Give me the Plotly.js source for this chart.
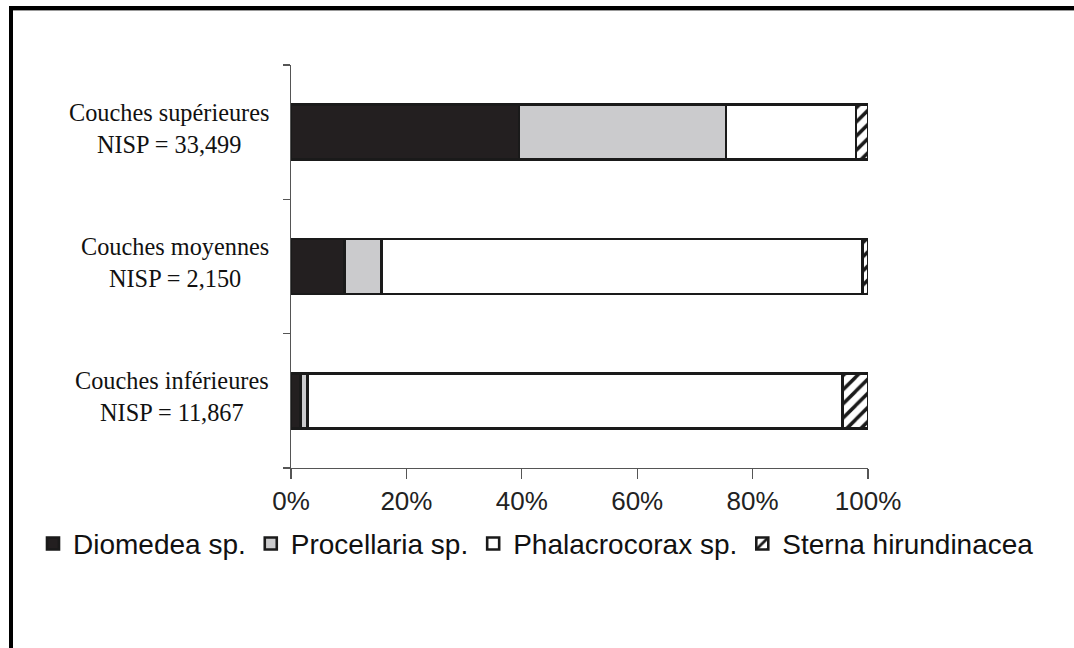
<!DOCTYPE html>
<html>
<head>
<meta charset="utf-8">
<script src="https://cdn.plot.ly/plotly-3.0.1.min.js"></script>
<style>
  html, body { margin: 0; padding: 0; background: #fff; }
  #frame { position: absolute; left: 9px; top: 6px; width: 1070px; height: 650px;
           border-top: 4px solid #000; border-left: 4px solid #000; box-sizing: border-box; }
  #frame2 { position: absolute; left: 13px; top: 10px; width: 1070px; height: 1px; background: #999; }
  #chart { position: absolute; left: 0; top: 0; width: 1074px; height: 648px; }
</style>
</head>
<body>
<div id="chart"></div>
<div id="frame"></div>
<div id="frame2"></div>
<script>
// Categories (bottom to top as drawn)
const layers = ["Couches inférieures", "Couches moyennes", "Couches supérieures"];
const nisp = ["11,867", "2,150", "33,499"];

// Percentages per taxon for each layer (same order as layers)
const diomedea      = [1.6, 9.3, 39.5];
const procellaria   = [1.3, 6.4, 35.9];
const phalacrocorax = [92.7, 83.3, 22.5];
const sterna        = [4.4, 1.0, 2.1];

const xTicks = [0, 20, 40, 60, 80, 100];
const xTickText = ["0%", "20%", "40%", "60%", "80%", "100%"];

const seriesNames = ["Diomedea sp.", "Procellaria sp.", "Phalacrocorax sp.", "Sterna hirundinacea"];

const lineStyle = { color: "#1a1a1a", width: 2.6 };

const traces = [
  { name: seriesNames[0], x: diomedea, marker: { color: "#231f20", line: lineStyle } },
  { name: seriesNames[1], x: procellaria, marker: { color: "#cbcbcd", line: lineStyle } },
  { name: seriesNames[2], x: phalacrocorax, marker: { color: "#ffffff", line: lineStyle } },
  { name: seriesNames[3], x: sterna, marker: { color: "#ffffff", line: lineStyle,
      pattern: { shape: "/", fgcolor: "#1a1a1a", bgcolor: "#ffffff", size: 10, solidity: 0.35 } } }
].map(t => Object.assign({
  type: "bar", orientation: "h", y: layers, width: 0.41, hoverinfo: "x+name"
}, t));

const annotations = layers.map((l, i) => ({
  xref: "x", yref: "y", x: 0, y: l, xshift: -20, yshift: 4, xanchor: "right", yanchor: "middle",
  text: l + "<br>NISP = " + nisp[i], align: "center", showarrow: false,
  font: { family: "Liberation Serif, Times New Roman, serif", size: 24.3, color: "#111" }
}));

// plot area: left margin 20, right margin 20 -> paper width 1034
const W = 1074, ML = 20, MR = 20, PW = W - ML - MR;

const layout = {
  width: W, height: 648,
  margin: { l: ML, r: MR, t: 65, b: 180 },
  paper_bgcolor: "rgba(0,0,0,0)", plot_bgcolor: "rgba(0,0,0,0)",
  barmode: "stack", bargap: 0,
  showlegend: true,
  legend: {
    orientation: "h", x: (33 - ML) / PW, xanchor: "left", y: -0.126, yanchor: "top",
    font: { family: "Liberation Sans, Arial, sans-serif", size: 28, color: "#111" },
    itemwidth: 30, traceorder: "normal", bgcolor: "rgba(0,0,0,0)"
  },
  xaxis: {
    domain: [(291 - ML) / PW, (868 - ML) / PW],
    range: [0, 100], tickvals: xTicks, ticktext: xTickText,
    showgrid: false, zeroline: false, showline: true, linecolor: "#555", linewidth: 1.2,
    ticks: "outside", ticklen: 10, tickcolor: "#555", tickwidth: 1.2,
    tickfont: { family: "Liberation Sans, Arial, sans-serif", size: 26, color: "#222" },
    fixedrange: true
  },
  yaxis: {
    type: "category", categoryorder: "array", categoryarray: layers,
    range: [-0.5, 2.5], tickson: "boundaries",
    showgrid: false, zeroline: false, showline: true, linecolor: "#555", linewidth: 1.2,
    ticks: "outside", ticklen: 7, tickcolor: "#555", tickwidth: 1.2,
    showticklabels: false, fixedrange: true
  },
  annotations: annotations
};

Plotly.newPlot("chart", traces, layout, { displayModeBar: false, staticPlot: true });
</script>
</body>
</html>
